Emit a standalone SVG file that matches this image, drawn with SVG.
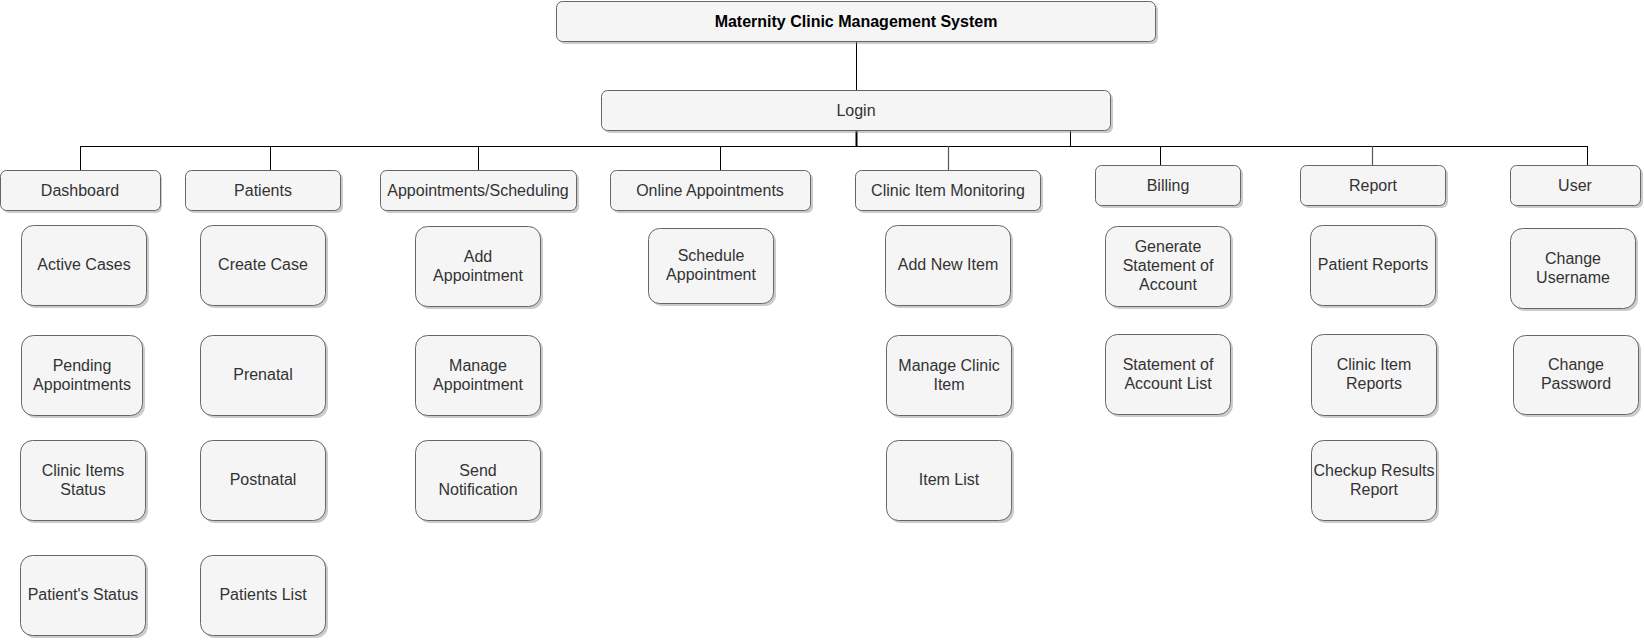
<svg xmlns="http://www.w3.org/2000/svg" width="1644" height="641" viewBox="0 0 1644 641">
<style>
.bx{fill:#f5f5f5;stroke:#666666;stroke-width:1}
.sh{fill:#8c8c8c;opacity:0.45}
.t{font-family:"Liberation Sans",Arial,sans-serif;font-size:16px;fill:#333333;text-anchor:middle}
.tb{font-family:"Liberation Sans",Arial,sans-serif;font-size:16px;font-weight:bold;fill:#000000;text-anchor:middle}
.c{fill:none;stroke:#000000;stroke-width:1}
.cg{fill:none;stroke:#555555;stroke-width:1.2}
</style>
<rect width="1644" height="641" fill="#ffffff"/>
<g id="connectors">
<path class="c" d="M856.5 41 V90"/>
<path class="c" d="M856.5 130 V146" style="stroke-width:2"/>
<path class="c" d="M1070.5 130 V146"/>
<path class="c" d="M80.5 146.5 H1587.5"/>
<path class="c" d="M80.5 146 V170"/>
<path class="c" d="M270.5 146 V170"/>
<path class="c" d="M478.5 146 V170"/>
<path class="c" d="M720.5 146 V170.5 H711"/>
<path class="cg" d="M948.5 146 V170"/>
<path class="c" d="M1160.5 146 V165.5 H1168"/>
<path class="cg" d="M1372.5 146 V165"/>
<path class="c" d="M1587.5 146 V165"/>
</g>
<g id="title"><rect class="sh" x="559" y="4" width="599" height="40" rx="6"/><rect class="bx" x="556.5" y="1.5" width="599" height="40" rx="6"/><text class="tb" x="856" y="26.5">Maternity Clinic Management System</text></g>
<g id="login"><rect class="sh" x="604" y="93" width="509" height="40" rx="6"/><rect class="bx" x="601.5" y="90.5" width="509" height="40" rx="6"/><text class="t" x="856" y="116">Login</text></g>
<g id="dashboard"><rect class="sh" x="3" y="173" width="159" height="40" rx="6"/><rect class="bx" x="0.5" y="170.5" width="160" height="40" rx="6"/><text class="t" x="80" y="196">Dashboard</text></g>
<g id="patients"><rect class="sh" x="188" y="173" width="155" height="40" rx="6"/><rect class="bx" x="185.5" y="170.5" width="155" height="40" rx="6"/><text class="t" x="263" y="196">Patients</text></g>
<g id="appointments"><rect class="sh" x="383" y="173" width="196" height="40" rx="6"/><rect class="bx" x="380.5" y="170.5" width="196" height="40" rx="6"/><text class="t" x="478" y="196">Appointments/Scheduling</text></g>
<g id="online"><rect class="sh" x="613" y="173" width="200" height="40" rx="6"/><rect class="bx" x="610.5" y="170.5" width="200" height="40" rx="6"/><text class="t" x="710" y="196">Online Appointments</text></g>
<g id="clinicmon"><rect class="sh" x="858" y="173" width="185" height="40" rx="6"/><rect class="bx" x="855.5" y="170.5" width="185" height="40" rx="6"/><text class="t" x="948" y="196">Clinic Item Monitoring</text></g>
<g id="billing"><rect class="sh" x="1098" y="168" width="145" height="40" rx="6"/><rect class="bx" x="1095.5" y="165.5" width="145" height="40" rx="6"/><text class="t" x="1168" y="191">Billing</text></g>
<g id="report"><rect class="sh" x="1303" y="168" width="145" height="40" rx="6"/><rect class="bx" x="1300.5" y="165.5" width="145" height="40" rx="6"/><text class="t" x="1373" y="191">Report</text></g>
<g id="user"><rect class="sh" x="1513" y="168" width="130" height="40" rx="6"/><rect class="bx" x="1510.5" y="165.5" width="130" height="40" rx="6"/><text class="t" x="1575" y="191">User</text></g>

<g id="active-cases"><rect class="sh" x="24" y="228" width="125" height="80" rx="12"/><rect class="bx" x="21.5" y="225.5" width="125" height="80" rx="12"/><text class="t" x="84" y="270">Active Cases</text></g>
<g id="pending"><rect class="sh" x="24" y="338" width="121" height="80" rx="12"/><rect class="bx" x="21.5" y="335.5" width="121" height="80" rx="12"/><text class="t" x="82" y="370.5">Pending</text><text class="t" x="82" y="389.5">Appointments</text></g>
<g id="clinic-items-status"><rect class="sh" x="23" y="443" width="125" height="80" rx="12"/><rect class="bx" x="20.5" y="440.5" width="125" height="80" rx="12"/><text class="t" x="83" y="475.5">Clinic Items</text><text class="t" x="83" y="494.5">Status</text></g>
<g id="patient-status"><rect class="sh" x="23" y="558" width="125" height="80" rx="12"/><rect class="bx" x="20.5" y="555.5" width="125" height="80" rx="12"/><text class="t" x="83" y="600">Patient's Status</text></g>

<g id="create-case"><rect class="sh" x="203" y="228" width="125" height="80" rx="12"/><rect class="bx" x="200.5" y="225.5" width="125" height="80" rx="12"/><text class="t" x="263" y="270">Create Case</text></g>
<g id="prenatal"><rect class="sh" x="203" y="338" width="125" height="80" rx="12"/><rect class="bx" x="200.5" y="335.5" width="125" height="80" rx="12"/><text class="t" x="263" y="380">Prenatal</text></g>
<g id="postnatal"><rect class="sh" x="203" y="443" width="125" height="80" rx="12"/><rect class="bx" x="200.5" y="440.5" width="125" height="80" rx="12"/><text class="t" x="263" y="485">Postnatal</text></g>
<g id="patients-list"><rect class="sh" x="203" y="558" width="125" height="80" rx="12"/><rect class="bx" x="200.5" y="555.5" width="125" height="80" rx="12"/><text class="t" x="263" y="600">Patients List</text></g>

<g id="add-appointment"><rect class="sh" x="418" y="229" width="125" height="80" rx="12"/><rect class="bx" x="415.5" y="226.5" width="125" height="80" rx="12"/><text class="t" x="478" y="261.5">Add</text><text class="t" x="478" y="280.5">Appointment</text></g>
<g id="manage-appointment"><rect class="sh" x="418" y="338" width="125" height="80" rx="12"/><rect class="bx" x="415.5" y="335.5" width="125" height="80" rx="12"/><text class="t" x="478" y="370.5">Manage</text><text class="t" x="478" y="389.5">Appointment</text></g>
<g id="send-notification"><rect class="sh" x="418" y="443" width="125" height="80" rx="12"/><rect class="bx" x="415.5" y="440.5" width="125" height="80" rx="12"/><text class="t" x="478" y="475.5">Send</text><text class="t" x="478" y="494.5">Notification</text></g>

<g id="schedule-appointment"><rect class="sh" x="651" y="231" width="125" height="75" rx="11"/><rect class="bx" x="648.5" y="228.5" width="125" height="75" rx="11"/><text class="t" x="711" y="261">Schedule</text><text class="t" x="711" y="280">Appointment</text></g>

<g id="add-new-item"><rect class="sh" x="888" y="228" width="125" height="80" rx="12"/><rect class="bx" x="885.5" y="225.5" width="125" height="80" rx="12"/><text class="t" x="948" y="270">Add New Item</text></g>
<g id="manage-clinic-item"><rect class="sh" x="889" y="338" width="125" height="80" rx="12"/><rect class="bx" x="886.5" y="335.5" width="125" height="80" rx="12"/><text class="t" x="949" y="370.5">Manage Clinic</text><text class="t" x="949" y="389.5">Item</text></g>
<g id="item-list"><rect class="sh" x="889" y="443" width="125" height="80" rx="12"/><rect class="bx" x="886.5" y="440.5" width="125" height="80" rx="12"/><text class="t" x="949" y="485">Item List</text></g>

<g id="generate-statement"><rect class="sh" x="1108" y="229" width="125" height="80" rx="12"/><rect class="bx" x="1105.5" y="226.5" width="125" height="80" rx="12"/><text class="t" x="1168" y="252">Generate</text><text class="t" x="1168" y="271">Statement of</text><text class="t" x="1168" y="290">Account</text></g>
<g id="statement-list"><rect class="sh" x="1108" y="337" width="125" height="80" rx="12"/><rect class="bx" x="1105.5" y="334.5" width="125" height="80" rx="12"/><text class="t" x="1168" y="369.5">Statement of</text><text class="t" x="1168" y="388.5">Account List</text></g>

<g id="patient-reports"><rect class="sh" x="1313" y="228" width="125" height="80" rx="12"/><rect class="bx" x="1310.5" y="225.5" width="125" height="80" rx="12"/><text class="t" x="1373" y="270">Patient Reports</text></g>
<g id="clinic-item-reports"><rect class="sh" x="1314" y="337" width="125" height="81" rx="12"/><rect class="bx" x="1311.5" y="334.5" width="125" height="81" rx="12"/><text class="t" x="1374" y="370">Clinic Item</text><text class="t" x="1374" y="389">Reports</text></g>
<g id="checkup-results"><rect class="sh" x="1314" y="443" width="125" height="80" rx="12"/><rect class="bx" x="1311.5" y="440.5" width="125" height="80" rx="12"/><text class="t" x="1374" y="475.5">Checkup Results</text><text class="t" x="1374" y="494.5">Report</text></g>

<g id="change-username"><rect class="sh" x="1513" y="231" width="125" height="80" rx="12"/><rect class="bx" x="1510.5" y="228.5" width="125" height="80" rx="12"/><text class="t" x="1573" y="263.5">Change</text><text class="t" x="1573" y="282.5">Username</text></g>
<g id="change-password"><rect class="sh" x="1516" y="338" width="125" height="79" rx="12"/><rect class="bx" x="1513.5" y="335.5" width="125" height="79" rx="12"/><text class="t" x="1576" y="370">Change</text><text class="t" x="1576" y="389">Password</text></g>
</svg>
